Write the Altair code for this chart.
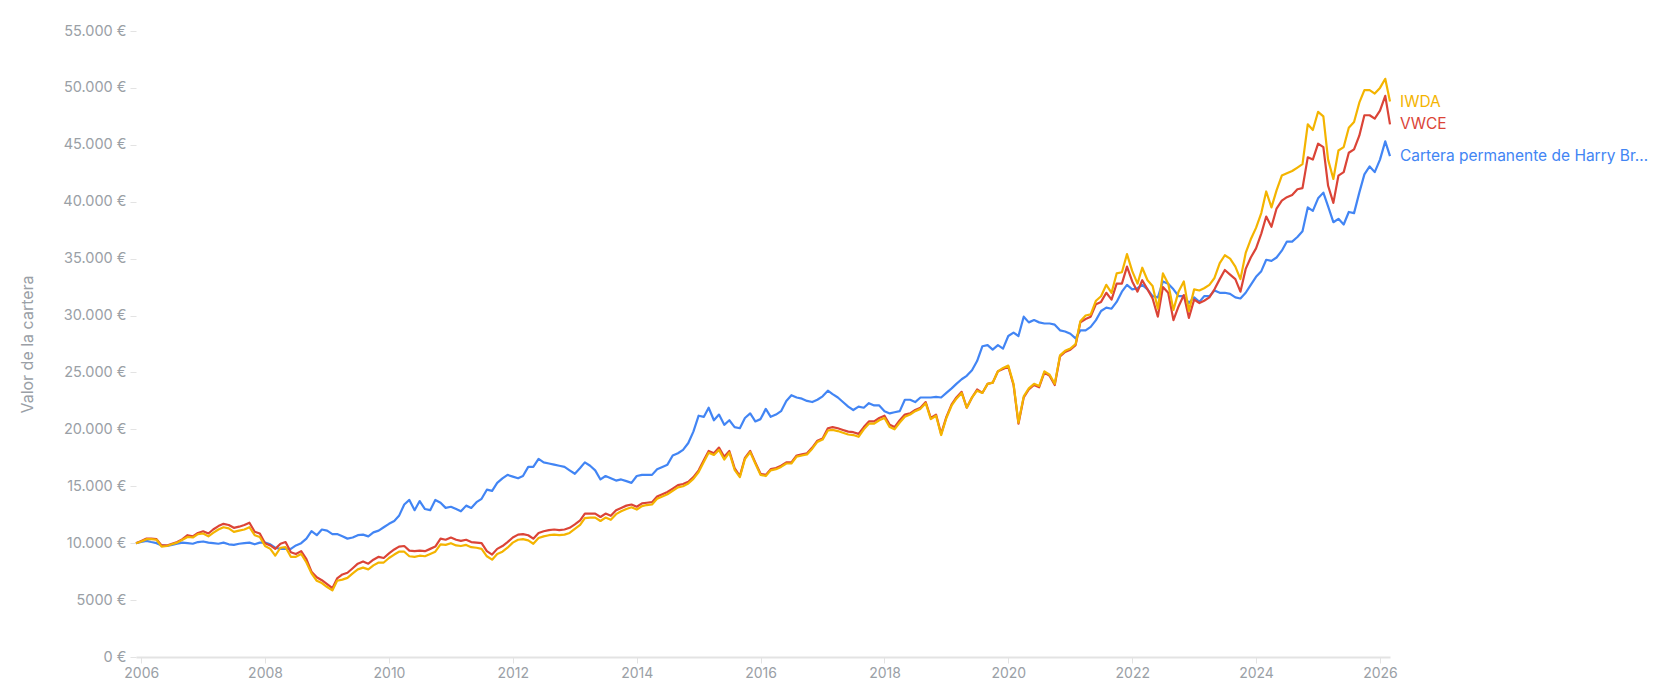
import altair as alt
import pandas as pd

# ---- data (values in thousands of euros, monthly, Dec 2005 .. Mar 2026) ----
series_names = ["IWDA", "VWCE", "Cartera permanente de Harry Browne"]
series_colors = ["#F4B400", "#DB4437", "#4285F4"]

iwda_k = [
    10.0,
    10.15, 10.35, 10.35, 10.3, 9.7, 9.75, 9.9, 10.05, 10.3, 10.55, 10.5, 10.8,      # 2006
    10.85, 10.6, 10.9, 11.2, 11.4, 11.3, 11.0, 11.1, 11.2, 11.4, 10.7, 10.55,      # 2007
    9.75, 9.5, 8.9, 9.6, 9.65, 8.8, 8.8, 9.05, 8.3, 7.35, 6.7, 6.5,                # 2008
    6.15, 5.85, 6.7, 6.8, 6.95, 7.35, 7.7, 7.85, 7.7, 8.05, 8.3, 8.3,              # 2009
    8.7, 9.0, 9.25, 9.25, 8.85, 8.8, 8.9, 8.85, 9.05, 9.25, 9.9, 9.85,             # 2010
    10.0, 9.8, 9.75, 9.85, 9.65, 9.6, 9.5, 8.85, 8.55, 9.05, 9.25, 9.6,            # 2011
    10.05, 10.3, 10.35, 10.25, 9.95, 10.45, 10.6, 10.7, 10.75, 10.7, 10.75, 10.9,  # 2012
    11.25, 11.6, 12.2, 12.25, 12.25, 11.95, 12.25, 12.05, 12.55, 12.8, 13.0, 13.15,  # 2013
    12.95, 13.25, 13.35, 13.4, 13.9, 14.1, 14.3, 14.6, 14.9, 15.0, 15.25, 15.65,   # 2014
    16.25, 17.15, 17.95, 17.75, 18.2, 17.35, 17.95, 16.45, 15.8, 17.4, 18.0, 17.0,  # 2015
    16.0, 15.9, 16.4, 16.5, 16.7, 17.0, 17.0, 17.6, 17.7, 17.8, 18.3, 18.9,        # 2016
    19.1, 19.9, 19.95, 19.85, 19.7, 19.55, 19.5, 19.35, 20.0, 20.5, 20.5, 20.8,    # 2017
    21.0, 20.2, 20.0, 20.6, 21.1, 21.3, 21.6, 21.8, 22.3, 20.9, 21.2, 19.5,        # 2018
    21.0, 22.1, 22.7, 23.2, 21.9, 22.8, 23.4, 23.2, 24.0, 24.1, 25.1, 25.4,        # 2019
    25.6, 24.0, 20.6, 22.9, 23.6, 24.0, 23.8, 25.1, 24.8, 24.0, 26.5, 26.9,        # 2020
    27.1, 27.5, 29.5, 30.0, 30.1, 31.3, 31.7, 32.7, 32.0, 33.7, 33.8, 35.4,        # 2021
    33.9, 32.8, 34.2, 33.1, 32.6, 30.6, 33.7, 32.8, 30.5, 32.1, 33.0, 30.4,        # 2022
    32.3, 32.2, 32.4, 32.7, 33.3, 34.6, 35.3, 35.0, 34.3, 33.2, 35.5, 36.7,        # 2023
    37.7, 39.0, 40.9, 39.5, 41.0, 42.3, 42.5, 42.7, 43.0, 43.3, 46.8, 46.3,        # 2024
    47.9, 47.5, 43.7, 42.0, 44.5, 44.8, 46.5, 47.0, 48.7, 49.8, 49.8, 49.5,        # 2025
    50.0, 50.8, 48.8,                                                              # 2026
]

vwce_k = [
    10.0,
    10.2, 10.4, 10.4, 10.35, 9.8, 9.8, 9.95, 10.1, 10.35, 10.7, 10.6, 10.9,        # 2006
    11.05, 10.85, 11.2, 11.5, 11.7, 11.6, 11.35, 11.45, 11.6, 11.8, 11.0, 10.85,   # 2007
    10.0, 9.8, 9.5, 9.95, 10.1, 9.2, 9.05, 9.3, 8.6, 7.5, 7.0, 6.75,               # 2008
    6.4, 6.05, 6.9, 7.25, 7.4, 7.8, 8.2, 8.4, 8.2, 8.55, 8.8, 8.7,                 # 2009
    9.1, 9.45, 9.7, 9.75, 9.35, 9.3, 9.35, 9.3, 9.5, 9.7, 10.4, 10.3,              # 2010
    10.5, 10.3, 10.2, 10.3, 10.1, 10.05, 10.0, 9.3, 9.0, 9.5, 9.75, 10.1,          # 2011
    10.5, 10.75, 10.8, 10.7, 10.4, 10.9, 11.05, 11.15, 11.2, 11.15, 11.2, 11.35,   # 2012
    11.65, 12.0, 12.6, 12.6, 12.6, 12.3, 12.6, 12.4, 12.9, 13.1, 13.3, 13.4,       # 2013
    13.2, 13.5, 13.55, 13.6, 14.1, 14.3, 14.5, 14.8, 15.1, 15.2, 15.4, 15.8,       # 2014
    16.4, 17.3, 18.1, 17.9, 18.4, 17.6, 18.1, 16.6, 15.9, 17.5, 18.1, 17.1,        # 2015
    16.1, 16.0, 16.5, 16.6, 16.8, 17.1, 17.1, 17.7, 17.8, 17.9, 18.4, 19.0,        # 2016
    19.2, 20.1, 20.2, 20.1, 19.95, 19.8, 19.75, 19.6, 20.2, 20.7, 20.7, 21.0,      # 2017
    21.2, 20.4, 20.2, 20.8, 21.3, 21.4, 21.7, 21.9, 22.4, 21.0, 21.3, 19.6,        # 2018
    21.1, 22.2, 22.8, 23.3, 21.9, 22.8, 23.5, 23.2, 24.0, 24.1, 25.1, 25.3,        # 2019
    25.5, 23.9, 20.5, 22.8, 23.5, 23.9, 23.7, 25.0, 24.7, 23.9, 26.4, 26.8,        # 2020
    27.0, 27.4, 29.4, 29.7, 29.9, 31.0, 31.2, 32.0, 31.4, 32.8, 32.8, 34.3,        # 2021
    33.0, 32.1, 33.1, 32.3, 31.5, 29.9, 32.5, 32.0, 29.6, 30.8, 31.8, 29.8,        # 2022
    31.4, 31.1, 31.3, 31.6, 32.3, 33.2, 34.0, 33.6, 33.2, 32.1, 34.1, 35.1,        # 2023
    35.9, 37.2, 38.7, 37.8, 39.4, 40.1, 40.4, 40.6, 41.1, 41.2, 43.9, 43.7,        # 2024
    45.1, 44.8, 41.4, 39.9, 42.3, 42.6, 44.3, 44.6, 45.8, 47.6, 47.6, 47.3,        # 2025
    48.0, 49.3, 46.8,                                                              # 2026
]

harry_k = [
    10.0,
    10.1, 10.2, 10.1, 10.0, 9.8, 9.75, 9.85, 9.95, 10.05, 10.0, 9.95, 10.1,        # 2006
    10.15, 10.05, 10.0, 9.95, 10.05, 9.9, 9.85, 9.95, 10.0, 10.05, 9.9, 10.05,     # 2007
    10.05, 9.9, 9.6, 9.5, 9.5, 9.5, 9.8, 10.0, 10.4, 11.05, 10.7, 11.2,            # 2008
    11.1, 10.8, 10.8, 10.6, 10.4, 10.5, 10.7, 10.75, 10.6, 10.95, 11.1, 11.4,      # 2009
    11.7, 11.95, 12.4, 13.4, 13.8, 12.9, 13.7, 13.0, 12.9, 13.8, 13.55, 13.1,      # 2010
    13.2, 13.0, 12.8, 13.3, 13.1, 13.6, 13.9, 14.7, 14.6, 15.3, 15.7, 16.0,        # 2011
    15.85, 15.7, 15.9, 16.7, 16.7, 17.4, 17.1, 17.0, 16.9, 16.8, 16.7, 16.4,       # 2012
    16.1, 16.6, 17.1, 16.8, 16.4, 15.6, 15.9, 15.7, 15.5, 15.6, 15.45, 15.3,       # 2013
    15.9, 16.0, 16.0, 16.0, 16.5, 16.7, 16.9, 17.7, 17.9, 18.2, 18.8, 19.8,        # 2014
    21.2, 21.1, 21.9, 20.8, 21.3, 20.4, 20.8, 20.2, 20.1, 21.0, 21.4, 20.7,        # 2015
    20.9, 21.8, 21.1, 21.3, 21.6, 22.5, 23.0, 22.8, 22.7, 22.5, 22.4, 22.6,        # 2016
    22.9, 23.4, 23.1, 22.8, 22.4, 22.0, 21.7, 22.0, 21.9, 22.3, 22.1, 22.1,        # 2017
    21.6, 21.4, 21.5, 21.6, 22.6, 22.6, 22.4, 22.8, 22.8, 22.8, 22.85, 22.8,       # 2018
    23.2, 23.6, 24.0, 24.4, 24.7, 25.2, 26.0, 27.3, 27.4, 27.0, 27.4, 27.1,        # 2019
    28.2, 28.5, 28.2, 29.9, 29.4, 29.6, 29.4, 29.3, 29.3, 29.2, 28.7, 28.6,        # 2020
    28.4, 28.0, 28.7, 28.7, 29.0, 29.6, 30.4, 30.7, 30.6, 31.2, 32.1, 32.7,        # 2021
    32.3, 32.4, 32.7, 32.3, 31.7, 31.6, 33.0, 32.8, 32.3, 31.7, 31.7, 31.1,        # 2022
    31.6, 31.2, 31.7, 31.7, 32.2, 32.0, 32.0, 31.9, 31.6, 31.5, 32.0, 32.7,        # 2023
    33.4, 33.9, 34.9, 34.8, 35.1, 35.7, 36.5, 36.5, 36.9, 37.4, 39.5, 39.2,        # 2024
    40.3, 40.8, 39.6, 38.2, 38.5, 38.0, 39.1, 39.0, 40.8, 42.4, 43.1, 42.6,        # 2025
    43.7, 45.3, 44.0,                                                              # 2026
]

y_ticks = list(range(0, 55001, 5000))
x_tick_years = list(range(2006, 2027, 2))

# ---- build table ----
months = pd.date_range("2005-12-01", "2026-03-01", freq="MS")
values_by_series = {
    series_names[0]: iwda_k,
    series_names[1]: vwce_k,
    series_names[2]: harry_k,
}
rows = []
for name, vals in values_by_series.items():
    assert len(vals) == len(months), (name, len(vals), len(months))
    for d, v in zip(months, vals):
        rows.append({"date": d.strftime("%Y-%m-%d"), "value": v * 1000, "series": name})
df = pd.DataFrame(rows)
last = df.groupby("series", sort=False).tail(1)

FONT = "Inter"
GRAY = "#9aa0a6"
LIGHT = "#e3e3e3"

color_scale = alt.Scale(domain=series_names, range=series_colors)

x_enc = alt.X(
    "date:T",
    axis=alt.Axis(
        values=[alt.DateTime(year=y, month=1, date=1) for y in x_tick_years],
        format="%Y",
        grid=False,
        domainColor=LIGHT,
        domainWidth=2,
        tickColor=LIGHT,
        tickSize=6,
        tickWidth=1,
        labelColor=GRAY,
        labelFontSize=14,
        labelFont=FONT,
        labelPadding=3,
        title=None,
    ),
)
y_enc = alt.Y(
    "value:Q",
    scale=alt.Scale(domain=[0, 55000], nice=False),
    axis=alt.Axis(
        values=y_ticks,
        labelExpr="datum.value >= 10000 ? replace(format(datum.value, ','), ',', '.') + ' €' : format(datum.value, 'd') + ' €'",
        grid=False,
        domain=False,
        tickColor=LIGHT,
        tickSize=6,
        labelColor=GRAY,
        labelFontSize=14.5,
        labelFont=FONT,
        labelPadding=4,
        title="Valor de la cartera",
        titleColor=GRAY,
        titleFont=FONT,
        titleFontSize=16,
        titleFontWeight="normal",
        titleX=-109,
        titleY=313,
        titleBaseline="middle",
    ),
)

def line_for(name):
    return (
        alt.Chart(df)
        .transform_filter(alt.datum.series == name)
        .mark_line(strokeWidth=2.2, strokeJoin="round")
        .encode(
            x=x_enc,
            y=y_enc,
            color=alt.Color("series:N", scale=color_scale, legend=None),
        )
    )

labels = (
    alt.Chart(last)
    .mark_text(align="left", baseline="middle", dx=10, fontSize=15.5, font=FONT, limit=255)
    .encode(
        x="date:T",
        y="value:Q",
        text="series:N",
        color=alt.Color("series:N", scale=color_scale, legend=None),
    )
)

chart = (
    alt.layer(line_for(series_names[2]), line_for(series_names[1]), line_for(series_names[0]), labels)
    .properties(
        width=1254,
        height=626,
        padding={"left": 128, "top": 23, "right": 266, "bottom": 25},
        autosize=alt.AutoSizeParams(type="none"),
        background="white",
    )
    .configure_view(stroke=None)
)

chart.save("out.html", embed_options={"renderer": "svg", "actions": False})
